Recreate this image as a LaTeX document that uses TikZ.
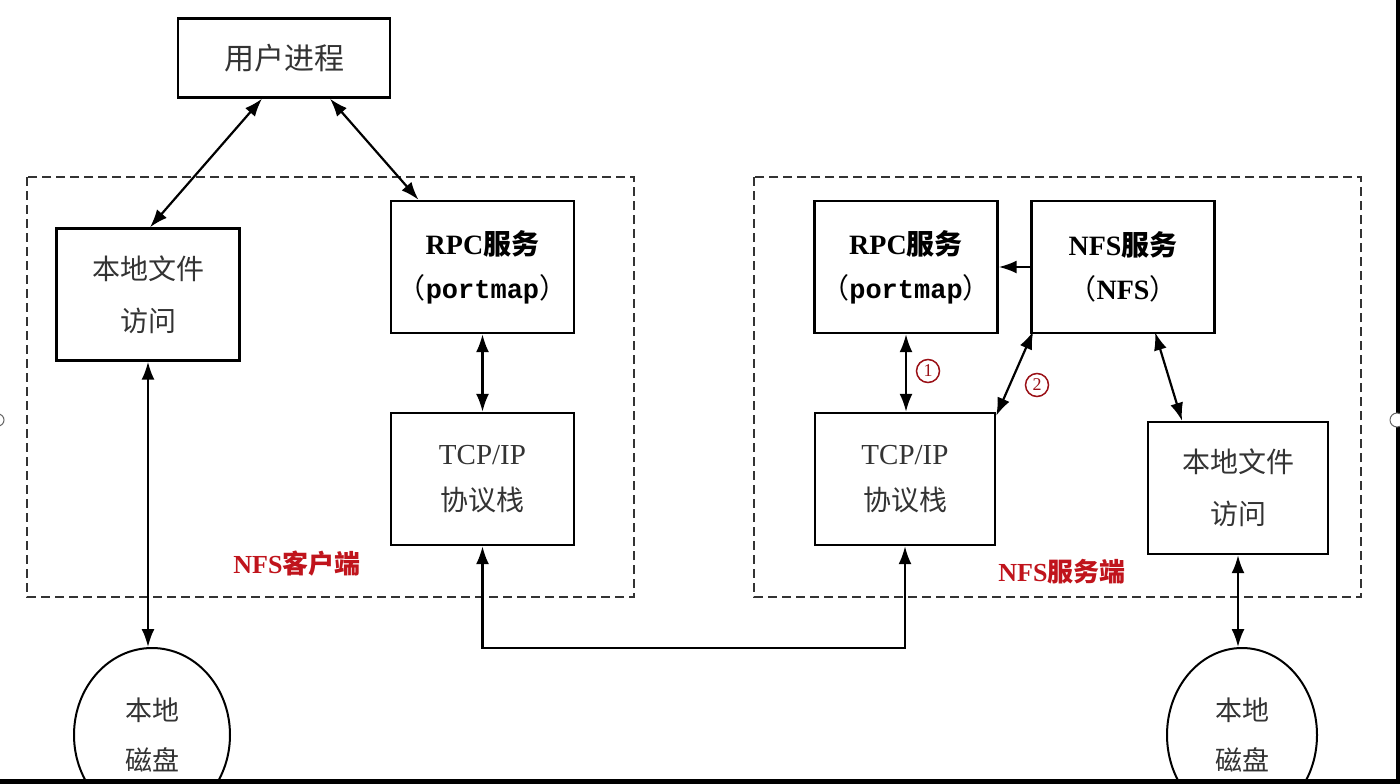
\documentclass[tikz,border=0pt]{standalone}
\usepackage{fontspec}
\setmainfont{Liberation Serif}
\newfontfamily\cjk{Noto Sans CJK SC}
\newfontfamily\monob{Liberation Mono}
\usetikzlibrary{arrows.meta,calc,shapes.geometric}
\definecolor{txtgray}{HTML}{333333}
\definecolor{lblred}{HTML}{C0141C}
\begin{document}
\begin{tikzpicture}[x=1pt,y=-1pt,
  box/.style={draw, line width=2.4pt, minimum width=183pt, minimum height=132pt, inner sep=0pt, align=center, text=txtgray, font=\cjk\fontsize{28}{52}\selectfont},
  group/.style={draw, line width=2.6pt, dash pattern=on 9pt off 5pt, black!80},
  dbl/.style={line width=2.2pt, {Latex[length=18pt,width=13pt]}-{Latex[length=18pt,width=13pt]}},
  sgl/.style={line width=2.2pt, -{Latex[length=18pt,width=13pt]}},
  disk/.style={draw, ellipse, line width=2pt, minimum width=156pt, minimum height=174pt, inner sep=0pt, align=center, text=txtgray},
  redlbl/.style={text=lblred, font=\cjk\bfseries\fontsize{26}{28}\selectfont},
  num/.style={draw=lblred!80!black, circle, line width=1.5pt, inner sep=0pt, minimum size=23pt, text=lblred!80!black, font=\fontsize{18}{18}\selectfont}
]
\useasboundingbox (0,0) rectangle (1400,784);
\fill[white] (0,0) rectangle (1400,784);

% group frames
\draw[group] (27,177) rectangle (634,597);
\draw[group] (754,177) rectangle (1361,597);

% nodes
\node[box, minimum width=212pt, minimum height=79pt, font=\cjk\fontsize{30}{32}\selectfont] (user) at (284,58) {用户进程};

\node[box] (cfile) at (148,294.5) {本地文件\\访问};
\node[box, text=black] (crpc) at (482.5,267) {{\rmfamily\bfseries RPC}{\cjk\bfseries 服务}\\[-8pt]{\cjk （}{\monob\bfseries\fontsize{27}{27}\selectfont portmap}{\cjk ）}};
\node[box] (ctcp) at (482.5,479) {{\rmfamily\fontsize{29}{29}\selectfont TCP/IP}\\[-6pt]协议栈};

\node[box, text=black] (srpc) at (906,267) {{\rmfamily\bfseries RPC}{\cjk\bfseries 服务}\\[-8pt]{\cjk （}{\monob\bfseries\fontsize{27}{27}\selectfont portmap}{\cjk ）}};
\node[box, text=black] (snfs) at (1123,267) {{\rmfamily\bfseries NFS}{\cjk\bfseries 服务}\\[-8pt]{\cjk （}{\rmfamily\bfseries NFS}{\cjk ）}};
\node[box, minimum width=180pt] (stcp) at (905,479) {{\rmfamily\fontsize{29}{29}\selectfont TCP/IP}\\[-6pt]协议栈};
\node[box, minimum width=180pt] (sfile) at (1238,488) {本地文件\\访问};

\node[disk, font=\cjk\fontsize{27}{50}\selectfont] (cdisk) at (152,735) {本地\\磁盘};
\node[disk, minimum width=150pt, font=\cjk\fontsize{27}{50}\selectfont] (sdisk) at (1242,735) {本地\\磁盘};

\node[redlbl] (clbl) at (297,564) {{\rmfamily\bfseries NFS}客户端};
\node[redlbl] (slbl) at (1062,572) {{\rmfamily\bfseries NFS}服务端};

% connectors
\draw[dbl] ([xshift=-22pt]user.south) -- ([xshift=2pt]cfile.north);
\draw[dbl] ([xshift=46pt]user.south) -- ([xshift=-64pt]crpc.north);
\draw[dbl] (cfile.south) -- (cfile.south |- cdisk.north);
\draw[dbl] (crpc.south) -- (ctcp.north);
\coordinate (bus) at (0,648);
\draw[dbl] (ctcp.south) -- (ctcp.south |- bus) -| (stcp.south);

\draw[sgl] (snfs.west) -- (srpc.east);
\draw[dbl] (srpc.south) -- (srpc.south |- stcp.north);
\draw[dbl] ([yshift=-4pt]stcp.north east) -- ([xshift=3pt,yshift=3pt]snfs.south west);
\draw[dbl] ([xshift=32pt,yshift=2pt]snfs.south) -- ([xshift=-56pt]sfile.north);
\draw[dbl] (sfile.south) -- (sfile.south |- sdisk.north);

\node[num] (n1) at (928,371) {1};
\node[num] (n2) at (1037,385) {2};

% screen frame artifacts
\fill[black] (0,779) rectangle (1400,784);
\fill[black] (1396,0) rectangle (1400,784);
\draw[black!60, fill=white, line width=1pt] (1397,420) circle (7pt);
\draw[black!60, fill=white, line width=1pt] (-2,420) circle (6pt);
\end{tikzpicture}
\end{document}
